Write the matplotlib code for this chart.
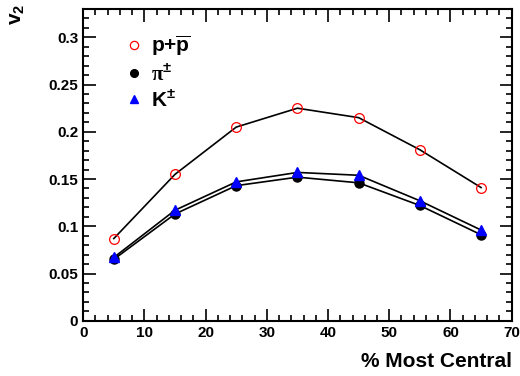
import matplotlib
matplotlib.use("Agg")
import matplotlib.pyplot as plt
from matplotlib.ticker import MultipleLocator

plt.rcParams["font.family"] = ["Liberation Sans", "DejaVu Sans"]
plt.rcParams["font.weight"] = "bold"
plt.rcParams["mathtext.fontset"] = "custom"
plt.rcParams["mathtext.rm"] = "Liberation Sans:bold"
plt.rcParams["mathtext.bf"] = "Liberation Sans:bold"
plt.rcParams["mathtext.sf"] = "Liberation Serif"

centrality = [5, 15, 25, 35, 45, 55, 65]
v2_proton = [0.087, 0.155, 0.205, 0.225, 0.215, 0.181, 0.141]
v2_pion = [0.065, 0.113, 0.143, 0.152, 0.146, 0.122, 0.091]
v2_kaon = [0.067, 0.117, 0.147, 0.157, 0.154, 0.127, 0.096]

fig = plt.figure(figsize=(5.2, 3.76), dpi=100)
ax = fig.add_axes([0.16, 0.147, 0.824, 0.829])

# lines first, markers on top
for vals in (v2_proton, v2_pion, v2_kaon):
    ax.plot(centrality, vals, color="black", linewidth=1.2, zorder=2)

h_p, = ax.plot(centrality, v2_proton, linestyle="none", marker="o", markersize=7,
               markerfacecolor="none", markeredgecolor="red", markeredgewidth=0.9, zorder=3)
h_pi, = ax.plot(centrality, v2_pion, linestyle="none", marker="o", markersize=6.5,
                color="black", zorder=3)
h_k, = ax.plot(centrality, v2_kaon, linestyle="none", marker="^", markersize=7,
               color="blue", zorder=4)

ax.set_xlim(0, 70)
ax.set_ylim(0, 0.33)
ax.xaxis.set_major_locator(MultipleLocator(10))
ax.xaxis.set_minor_locator(MultipleLocator(2))
ax.yaxis.set_major_locator(MultipleLocator(0.05))
ax.yaxis.set_minor_locator(MultipleLocator(0.01))
ax.yaxis.set_major_formatter(plt.FuncFormatter(lambda v, p: "0" if v == 0 else f"{v:g}"))
ax.tick_params(which="both", direction="in", top=True, right=True, width=1.2,
               labelsize=11)
ax.tick_params(which="major", length=9)
ax.tick_params(which="minor", length=4.5)
for s in ax.spines.values():
    s.set_linewidth(1.5)

leg = ax.legend([h_p, h_pi, h_k],
                [r"p+$\overline{\mathrm{p}}$", r"$\mathsf{\pi}^{\pm}$", r"K$^{\pm}$"],
                loc="upper left", bbox_to_anchor=(0.04, 0.98), frameon=False,
                fontsize=15, handletextpad=0.15, labelspacing=0.22, handlelength=1.4,
                markerscale=0.85)

fig.text(0.984, 0.012, "% Most Central", ha="right", va="bottom", fontsize=15,
         fontweight="bold")
fig.text(0.015, 0.99, r"v$_{\mathrm{2}}$", ha="left", va="top", rotation=90,
         fontsize=15, fontweight="bold")

fig.savefig("out.png", dpi=100)
